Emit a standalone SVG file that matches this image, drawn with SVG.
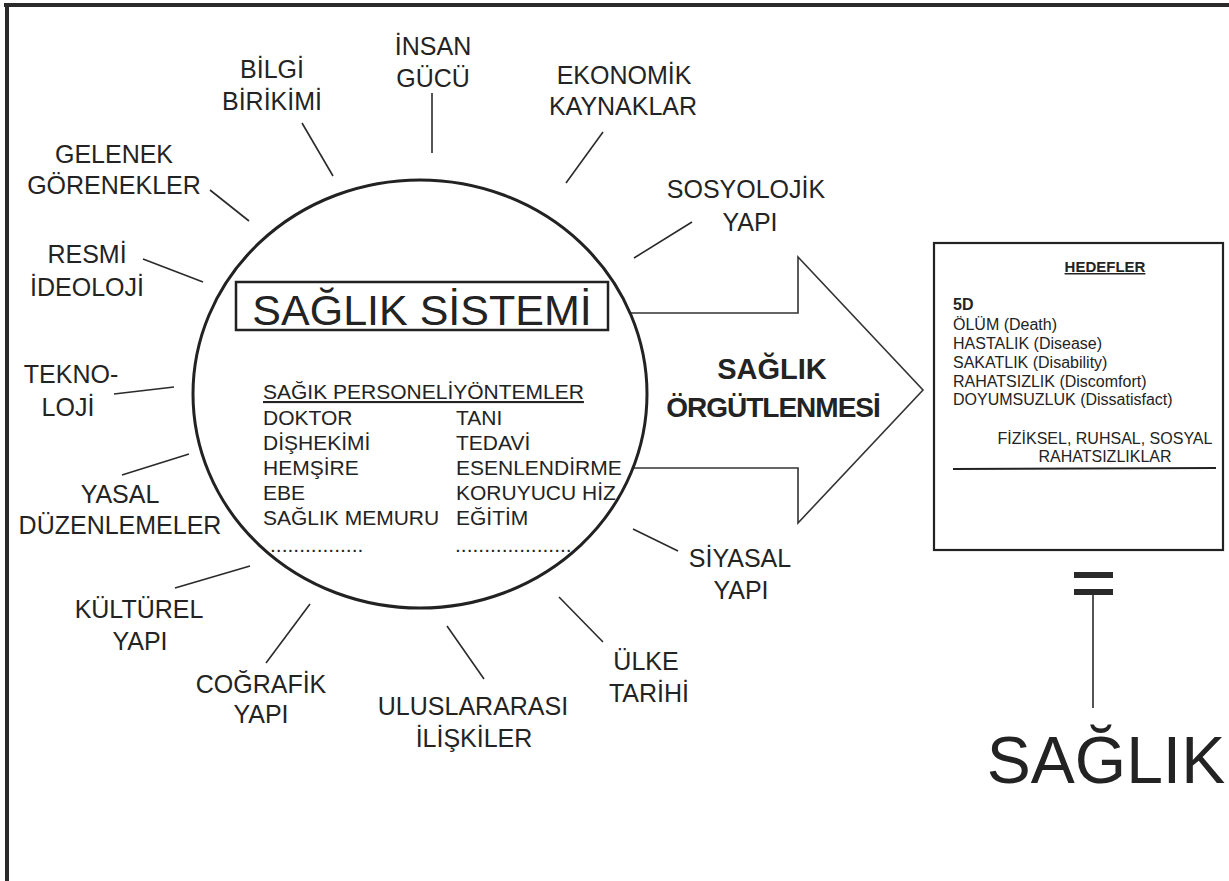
<svg xmlns="http://www.w3.org/2000/svg" width="1229" height="881" viewBox="0 0 1229 881">
<style>
text{font-family:"Liberation Sans",Arial,Helvetica,sans-serif;fill:#232323}
.lbl{font-size:25px;text-anchor:middle}
.lst{font-size:21px}
.hd{font-size:16px}
.ln{stroke:#2a2a2a;stroke-width:1.6;fill:none}
</style>
<rect width="1229" height="881" fill="#ffffff"/>
<g id="frame" fill="none" stroke="#2b2b2b">
<line x1="4" y1="5" x2="1229" y2="5" stroke-width="4"/>
<line x1="7" y1="3" x2="7" y2="881" stroke-width="4"/>
</g>
<g id="connectors">
<line class="ln" x1="432" y1="93" x2="432" y2="153"/>
<line class="ln" x1="302" y1="123" x2="333" y2="176"/>
<line class="ln" x1="603" y1="132" x2="566" y2="183"/>
<line class="ln" x1="692" y1="222" x2="634" y2="258"/>
<line class="ln" x1="210" y1="190" x2="249" y2="221"/>
<line class="ln" x1="143" y1="259" x2="203" y2="282"/>
<line class="ln" x1="114" y1="394" x2="174" y2="387"/>
<line class="ln" x1="122" y1="475" x2="189" y2="454"/>
<line class="ln" x1="175" y1="588" x2="250" y2="566"/>
<line class="ln" x1="266" y1="663" x2="310" y2="604"/>
<line class="ln" x1="447" y1="626" x2="484" y2="679"/>
<line class="ln" x1="559" y1="597" x2="603" y2="642"/>
<line class="ln" x1="633" y1="529" x2="678" y2="551"/>
<line class="ln" x1="1093" y1="595" x2="1093" y2="708"/>
</g>
<g id="arrow">
<polyline points="631,313 798,313 798,257 923,390 798,523 798,468 634,468" fill="none" stroke="#333" stroke-width="1.6" stroke-linejoin="miter"/>
<text x="772" y="379" font-size="29" font-weight="bold" text-anchor="middle">SAĞLIK</text>
<text x="773" y="417" font-size="28" font-weight="bold" text-anchor="middle" letter-spacing="-1">ÖRGÜTLENMESİ</text>
</g>
<g id="saglik-sistemi">
<ellipse cx="420" cy="394" rx="227" ry="214" fill="none" stroke="#222" stroke-width="3"/>
<rect x="236" y="282" width="372" height="48" fill="none" stroke="#222" stroke-width="2.5"/>
<text x="422" y="325" font-size="43" text-anchor="middle">SAĞLIK SİSTEMİ</text>
<text class="lst" x="263" y="399" text-decoration="underline">SAĞIK PERSONELİYÖNTEMLER</text>
<text class="lst" x="263" y="425">DOKTOR</text>
<text class="lst" x="263" y="450">DİŞHEKİMİ</text>
<text class="lst" x="263" y="475">HEMŞİRE</text>
<text class="lst" x="263" y="500">EBE</text>
<text class="lst" x="263" y="525">SAĞLIK MEMURU</text>
<text class="lst" x="270" y="552" font-size="19">................</text>
<text class="lst" x="456" y="425">TANI</text>
<text class="lst" x="456" y="450">TEDAVİ</text>
<text class="lst" x="456" y="475">ESENLENDİRME</text>
<text class="lst" x="456" y="500">KORUYUCU HİZ</text>
<text class="lst" x="456" y="525">EĞİTİM</text>
<text class="lst" x="455" y="552" font-size="19">....................</text>
</g>
<g id="insan-gucu"><text class="lbl" x="433"><tspan x="433" y="55">İNSAN</tspan><tspan x="433" y="87">GÜCÜ</tspan></text></g>
<g id="bilgi-birikimi"><text class="lbl"><tspan x="272" y="78">BİLGİ</tspan><tspan x="272" y="110">BİRİKİMİ</tspan></text></g>
<g id="ekonomik-kaynaklar"><text class="lbl"><tspan x="624" y="84">EKONOMİK</tspan><tspan x="623" y="115">KAYNAKLAR</tspan></text></g>
<g id="sosyolojik-yapi"><text class="lbl"><tspan x="746" y="198">SOSYOLOJİK</tspan><tspan x="750" y="231">YAPI</tspan></text></g>
<g id="gelenek"><text class="lbl"><tspan x="114" y="163">GELENEK</tspan><tspan x="114" y="194">GÖRENEKLER</tspan></text></g>
<g id="resmi-ideoloji"><text class="lbl"><tspan x="87" y="263">RESMİ</tspan><tspan x="87" y="296">İDEOLOJİ</tspan></text></g>
<g id="teknoloji"><text class="lbl"><tspan x="71" y="383">TEKNO-</tspan><tspan x="68" y="416">LOJİ</tspan></text></g>
<g id="yasal"><text class="lbl"><tspan x="120" y="503">YASAL</tspan><tspan x="120" y="534">DÜZENLEMELER</tspan></text></g>
<g id="kulturel"><text class="lbl"><tspan x="139" y="618">KÜLTÜREL</tspan><tspan x="140" y="650">YAPI</tspan></text></g>
<g id="cografik"><text class="lbl"><tspan x="261" y="693">COĞRAFİK</tspan><tspan x="261" y="723">YAPI</tspan></text></g>
<g id="uluslararasi"><text class="lbl"><tspan x="473" y="715">ULUSLARARASI</tspan><tspan x="474" y="747">İLİŞKİLER</tspan></text></g>
<g id="ulke-tarihi"><text class="lbl"><tspan x="646" y="670">ÜLKE</tspan><tspan x="649" y="702">TARİHİ</tspan></text></g>
<g id="siyasal-yapi"><text class="lbl"><tspan x="740" y="567">SİYASAL</tspan><tspan x="741" y="599">YAPI</tspan></text></g>
<g id="hedefler">
<rect x="934" y="243" width="289" height="307" fill="none" stroke="#222" stroke-width="2.2"/>
<text x="1105" y="272" font-size="15" font-weight="bold" text-anchor="middle" text-decoration="underline">HEDEFLER</text>
<text class="hd" x="953" y="310" font-weight="bold">5D</text>
<text class="hd" x="953" y="330">ÖLÜM (Death)</text>
<text class="hd" x="953" y="349">HASTALIK (Disease)</text>
<text class="hd" x="953" y="368">SAKATLIK (Disability)</text>
<text class="hd" x="953" y="387">RAHATSIZLIK (Discomfort)</text>
<text class="hd" x="953" y="405">DOYUMSUZLUK (Dissatisfact)</text>
<text class="hd" x="1105" y="444" text-anchor="middle">FİZİKSEL, RUHSAL, SOSYAL</text>
<text class="hd" x="1105" y="462" text-anchor="middle">RAHATSIZLIKLAR</text>
<line x1="953" y1="469" x2="1216" y2="468" stroke="#222" stroke-width="1.8"/>
</g>
<g id="esittir" fill="#2a2a2a">
<rect x="1074" y="572" width="39" height="6"/>
<rect x="1074" y="589" width="39" height="6"/>
</g>
<g id="saglik"><text x="1106" y="783" font-size="66" text-anchor="middle">SAĞLIK</text></g>
</svg>
